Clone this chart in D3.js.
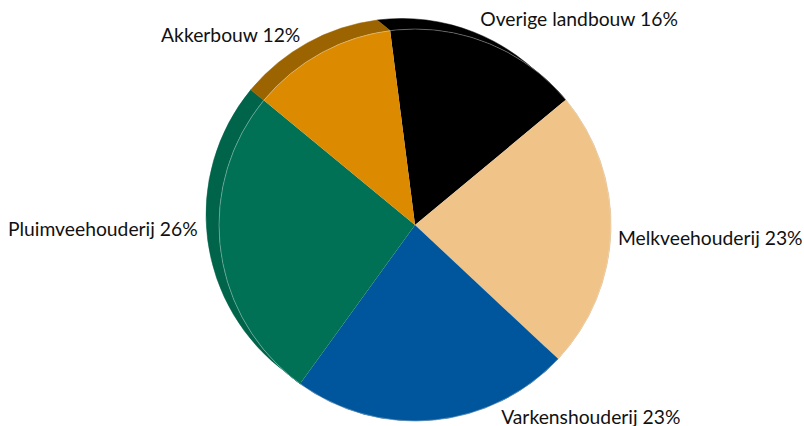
<!DOCTYPE html>
<html>
<head>
<meta charset="utf-8">
<script src="https://cdn.jsdelivr.net/npm/d3@7"></script>
<style>
  html, body { margin: 0; padding: 0; background: #fff; }
  svg { display: block; }
  .pie-label { font-family: Lato, 'Open Sans', sans-serif; font-size: 19.3px; fill: #111; }
</style>
</head>
<body>
<div id="chart"></div>
<script>
// data
const categories = ['Overige landbouw', 'Melkveehouderij', 'Varkenshouderij', 'Pluimveehouderij', 'Akkerbouw'];
const shares = [16, 23, 23, 26, 12];
const topColors = ['#000000', '#f0c488', '#00569c', '#007155', '#dc8a00'];
const sideColors = ['#000000', '#b8925c', '#003f73', '#00644a', '#9c6400'];

const width = 804;
const height = 426;
const cx = 415, cy = 225;
const r = 196;
// extrusion of the pie, towards the upper left
const depth = { x: -13, y: -10.5 };

const svg = d3.select('#chart')
  .append('svg')
  .attr('width', width)
  .attr('height', height);

const data = categories.map((name, i) => ({ name, value: shares[i], i }));

const pie = d3.pie()
  .sort(null)
  .value(d => d.value)
  .startAngle(-7.3 * Math.PI / 180)
  .endAngle((360 - 7.3) * Math.PI / 180);

const arcs = pie(data);
const arc = d3.arc().innerRadius(0).outerRadius(r);

// side band of each slice: rim arc, then the same arc shifted by depth
function sidePath(d) {
  const p = d3.path();
  const a0 = d.startAngle - Math.PI / 2;
  const a1 = d.endAngle - Math.PI / 2;
  p.moveTo(cx + r * Math.cos(a0), cy + r * Math.sin(a0));
  p.arc(cx, cy, r, a0, a1);
  p.lineTo(cx + depth.x + r * Math.cos(a1), cy + depth.y + r * Math.sin(a1));
  p.arc(cx + depth.x, cy + depth.y, r, a1, a0, true);
  p.closePath();
  return p.toString();
}

svg.append('g')
  .selectAll('path')
  .data(arcs)
  .join('path')
  .attr('d', sidePath)
  .attr('fill', d => sideColors[d.data.i])
  .attr('stroke', d => sideColors[d.data.i])
  .attr('stroke-width', 0.5);

const face = svg.append('g').attr('transform', `translate(${cx},${cy})`);

face.selectAll('path')
  .data(arcs)
  .join('path')
  .attr('d', arc)
  .attr('fill', d => topColors[d.data.i]);

// thin light rim between top face and side
face.append('circle')
  .attr('r', r)
  .attr('fill', 'none')
  .attr('stroke', '#ffffff')
  .attr('stroke-opacity', 0.45)
  .attr('stroke-width', 0.7);

// labels
const labelRadius = 200;
const labelNudge = {
  'Overige landbouw': [-8, -13],
  'Melkveehouderij': [3, 14],
  'Varkenshouderij': [67, 0],
  'Pluimveehouderij': [-19, -14],
  'Akkerbouw': [-18, -8]
};

svg.append('g')
  .selectAll('text')
  .data(arcs)
  .join('text')
  .attr('class', 'pie-label')
  .attr('x', d => {
    const a = (d.startAngle + d.endAngle) / 2;
    return cx + labelRadius * Math.sin(a) + labelNudge[d.data.name][0];
  })
  .attr('y', d => {
    const a = (d.startAngle + d.endAngle) / 2;
    return cy - labelRadius * Math.cos(a) + labelNudge[d.data.name][1];
  })
  .attr('text-anchor', d => {
    const a = (d.startAngle + d.endAngle) / 2;
    return Math.sin(a) >= 0 ? 'start' : 'end';
  })
  .text(d => d.data.name + ' ' + d.data.value + '%');
</script>
</body>
</html>
